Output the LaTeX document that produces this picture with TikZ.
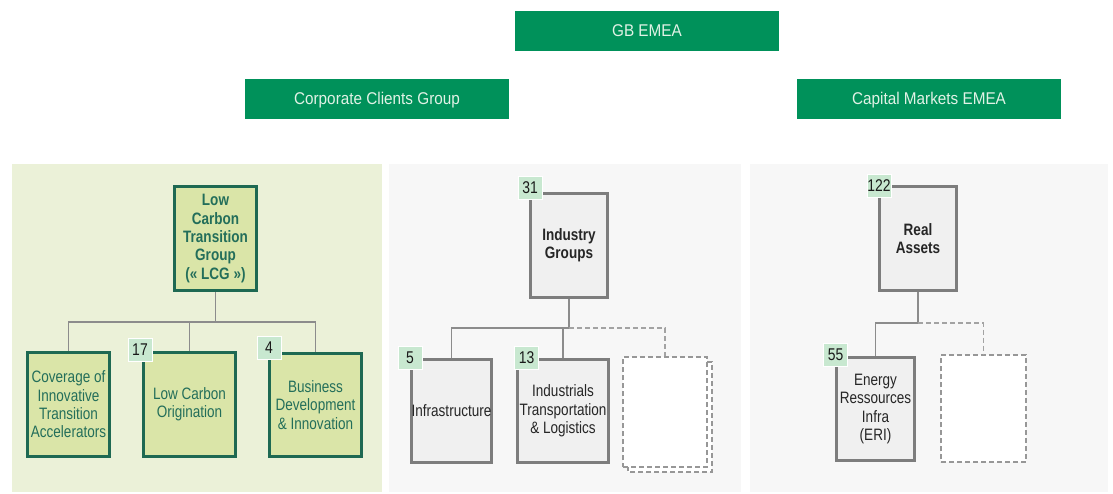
\documentclass[tikz,border=0pt]{standalone}
\usepackage{fontspec}
\setmainfont{Liberation Sans}
\newfontfamily\boxfont{Liberation Sans}[FakeStretch=0.82]
\newfontfamily\headfont{Liberation Sans}[FakeStretch=0.9]
\definecolor{bnpgreen}{RGB}{0,145,90}
\definecolor{headtext}{RGB}{225,242,230}
\definecolor{lcgbg}{RGB}{235,241,216}
\definecolor{lcgfill}{RGB}{218,229,168}
\definecolor{lcgline}{RGB}{30,105,82}
\definecolor{lcgtext}{RGB}{35,110,90}
\definecolor{greybg}{RGB}{247,247,247}
\definecolor{greyfill}{RGB}{240,240,240}
\definecolor{greyline}{RGB}{125,125,125}
\definecolor{conline}{RGB}{140,140,140}
\definecolor{numfill}{RGB}{200,232,208}
\tikzset{
  head/.style={fill=bnpgreen,text=headtext,minimum width=264pt,minimum height=40pt,inner sep=0pt,text depth=1.5pt,font=\headfont\fontsize{17}{19}\selectfont},
  lcgbox/.style={draw=lcgline,line width=2.5pt,fill=lcgfill,text=lcgtext,align=center,inner sep=0pt,font=\boxfont\fontsize{16.5}{18.3}\selectfont},
  greybox/.style={draw=greyline,line width=2.5pt,fill=greyfill,text=black!85,align=center,inner sep=0pt,font=\boxfont\fontsize{16.5}{18.3}\selectfont},
  emptybox/.style={draw=greyline!80,dash pattern=on 5pt off 3pt,line width=1.2pt,fill=white,inner sep=0pt},
  numtag/.style={fill=numfill,draw=white,line width=0.6pt,minimum width=24pt,minimum height=23pt,inner sep=0pt,text=black!90,font=\boxfont\fontsize{17}{18}\selectfont},
  con/.style={draw=conline,line width=1.6pt},
  dashcon/.style={draw=conline!80,dash pattern=on 5pt off 3pt,line width=1.2pt}
}
\begin{document}
\begin{tikzpicture}[x=1pt,y=-1pt]
\useasboundingbox (0,0) rectangle (1113,493);
% panels
\fill[lcgbg] (12,164) rectangle (382,492);
\fill[greybg] (389,164) rectangle (741,492);
\fill[greybg] (750,164) rectangle (1108,492);
% headers
\node[head,name=gb] at (647,31){GB EMEA};
\node[head,name=ccg] at (377,99){Corporate Clients Group};
\node[head,name=cm] at (929,99){Capital Markets EMEA};
% Low Carbon Transition Group
\node[lcgbox,minimum width=82pt,minimum height=104pt,name=lcg,font=\boxfont\fontsize{16.5}{18.3}\selectfont\bfseries] at (215.5,238.5){Low\\Carbon\\Transition\\Group\\(« LCG »)};
\node[lcgbox,minimum width=82pt,minimum height=104pt,name=cita] at (68.5,404.5){Coverage of\\Innovative\\Transition\\Accelerators};
\node[lcgbox,minimum width=92pt,minimum height=104pt,name=lco] at (189.5,404.5){Low Carbon\\Origination};
\node[lcgbox,minimum width=92pt,minimum height=103pt,name=bdi] at (315.5,405){Business\\Development\\\& Innovation};
\coordinate (ja) at (215.5,322);
\draw[con] (lcg) -- (ja);
\draw[con] (ja) -| (cita.north);
\draw[con] (ja) -| (lco.north);
\draw[con] (ja) -| (bdi.north);
\node[numtag,name=t17] at (140,349.5){17};
\node[numtag,name=t4] at (269,347.5){4};
% Industry Groups
\node[greybox,minimum width=77pt,minimum height=104pt,name=ig,font=\boxfont\fontsize{16.5}{18.3}\selectfont\bfseries] at (569,245.5){Industry\\Groups};
\node[greybox,minimum width=78pt,minimum height=103pt,name=infra] at (451.5,411){Infrastructure};
\node[greybox,minimum width=91pt,minimum height=103pt,name=itl] at (563,411){Industrials\\Transportation\\\& Logistics};
\draw[emptybox] (628,362) rectangle (712,472);
\node[emptybox,minimum width=84pt,minimum height=110pt,name=igx] at (665,412){};
\coordinate (jb) at (569,328);
\draw[con] (ig) -- (jb);
\draw[con] (jb) -| (infra.north);
\draw[con] (jb) -| (itl.north);
\draw[dashcon] (jb) -| (igx.north);
\node[numtag,name=t31] at (530,187.5){31};
\node[numtag,name=t5] at (410,358){5};
\node[numtag,name=t13] at (526.5,358){13};
% Real Assets
\node[greybox,minimum width=77pt,minimum height=104pt,name=ra,font=\boxfont\fontsize{16.5}{18.3}\selectfont\bfseries] at (918,238.5){Real\\Assets};
\node[greybox,minimum width=78pt,minimum height=103pt,name=eri] at (875.5,409){Energy\\Ressources\\Infra\\(ERI)};
\node[emptybox,minimum width=85pt,minimum height=107pt,name=rax] at (983.5,408.5){};
\coordinate (jc) at (918,323);
\draw[con] (ra) -- (jc);
\draw[con] (jc) -| (eri.north);
\draw[dashcon] (jc) -| (rax.north);
\node[numtag,name=t122] at (879,185.5){122};
\node[numtag,name=t55] at (835.5,355){55};
\end{tikzpicture}
\end{document}
